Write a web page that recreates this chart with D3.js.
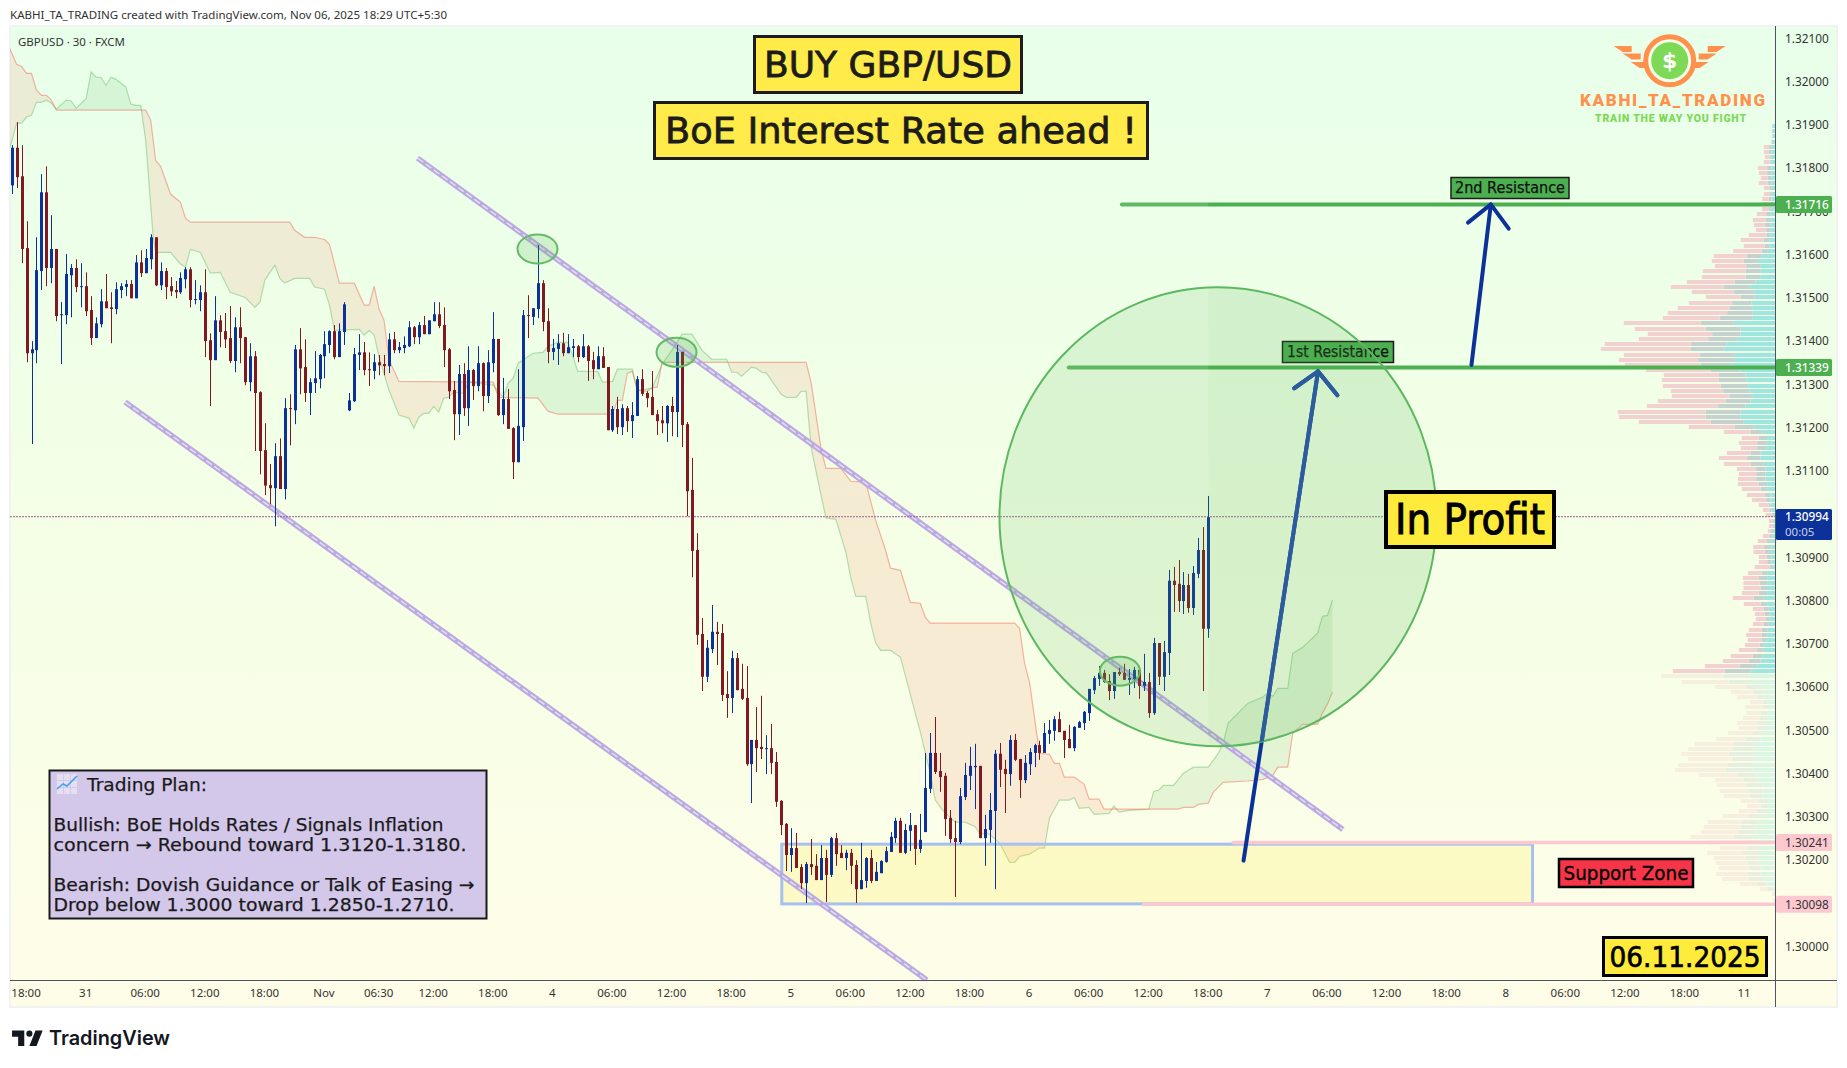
<!DOCTYPE html>
<html><head><meta charset="utf-8">
<style>html,body{margin:0;padding:0;background:#fff}svg{display:block}</style>
<script src="https://cdn.jsdelivr.net/npm/d3@7/dist/d3.min.js"></script>
</head><body><div id="chart"></div>
<script>
// Prices are in units of 0.00001
const opens=[131760,131847,131781,131615,131372,131379,131562,131744,131569,131613,
131460,131460,131552,131569,131525,131527,131472,131407,131439,131492,
131478,131474,131518,131525,131532,131499,131582,131557,131589,131640,
131529,131562,131527,131518,131513,131543,131566,131495,131495,131513,
131402,131356,131448,131423,131407,131354,131432,131409,131305,131365,
131282,131148,131067,131060,131134,131058,131245,131240,131381,131340,
131280,131303,131312,131365,131391,131423,131363,131421,131240,131261,
131368,131374,131335,131331,131351,131347,131342,131404,131379,131384,
131388,131432,131409,131437,131416,131446,131462,131437,131381,131287,
131231,131324,131245,131333,131296,131349,131273,131349,131405,131229,
131266,131199,131120,131201,131460,131456,131474,131534,131446,131375,
131382,131395,131372,131384,131388,131363,131388,131356,131335,131365,
131340,131194,131243,131201,131245,131215,131227,131312,131280,131271,
131231,131217,131210,131250,131236,131375,131208,131056,130917,130723,
130624,130688,130728,130725,130584,130575,130667,130596,130575,130422,
130478,130462,130457,130459,130427,130337,130284,130212,130228,130184,
130147,130191,130187,130154,130205,130166,130251,130217,130205,130217,
130189,130133,130152,130205,130152,130170,130196,130219,130251,130291,
130217,130268,130281,130226,130265,130365,130448,130406,130395,130298,
130251,130242,130346,130395,130415,130418,130251,130270,130314,130446,
130411,130399,130478,130434,130385,130422,130448,130466,130448,130492,
130499,130526,130499,130480,130459,130506,130517,130540,130593,130619,
130633,130614,130591,130635,130633,130617,130619,130640,130603,130612,
130540,130702,130624,130679,130846,130839,130799,130836,130783,130862,130917,130735];
const highs=[131853,131906,131853,131677,131400,131640,131786,131804,131691,131613,
131490,131601,131578,131589,131580,131559,131504,131455,131520,131555,
131513,131536,131534,131541,131541,131599,131610,131613,131647,131640,
131582,131569,131548,131539,131559,131571,131571,131541,131529,131566,
131418,131504,131460,131465,131481,131455,131478,131409,131395,131377,
131284,131210,131116,131164,131175,131268,131277,131391,131430,131404,
131314,131377,131370,131423,131425,131437,131441,131490,131280,131384,
131416,131398,131374,131370,131368,131368,131418,131421,131398,131411,
131446,131435,131444,131458,131448,131490,131490,131478,131384,131308,
131345,131349,131388,131335,131388,131351,131379,131467,131405,131315,
131289,131201,131335,131472,131506,131476,131622,131541,131476,131405,
131416,131419,131416,131405,131391,131416,131391,131375,131388,131386,
131340,131250,131271,131254,131250,131259,131319,131335,131284,131331,
131241,131250,131252,131271,131391,131375,131213,131130,130956,130760,
130709,130790,130751,130746,130637,130684,130679,130654,130649,130478,
130554,130580,130489,130515,130450,130339,130286,130274,130263,130191,
130196,130249,130214,130235,130224,130254,130263,130235,130224,130226,
130200,130240,130207,130224,130196,130200,130231,130265,130298,130298,
130284,130309,130281,130307,130448,130494,130531,130448,130402,130316,
130291,130367,130425,130462,130469,130418,130305,130355,130455,130471,
130432,130489,130492,130434,130443,130459,130469,130476,130517,130524,
130533,130543,130499,130513,130510,130522,130545,130596,130626,130649,
130640,130630,130635,130644,130654,130642,130647,130640,130677,130633,
130714,130702,130707,130871,130878,130894,130866,130862,130880,130945,130970,131042];
const lows=[131740,131754,131580,131351,131162,131349,131518,131527,131534,131446,
131347,131439,131455,131513,131478,131458,131391,131407,131432,131476,
131395,131462,131499,131504,131499,131499,131548,131557,131566,131527,
131518,131497,131504,131499,131509,131522,131478,131485,131469,131363,
131250,131356,131386,131384,131349,131328,131349,131298,131284,131146,
131092,131044,131023,130972,131058,131034,131159,131208,131277,131259,
131229,131280,131291,131314,131372,131358,131363,131391,131238,131259,
131333,131321,131296,131312,131321,131321,131326,131372,131372,131372,
131386,131393,131393,131416,131416,131446,131430,131340,131266,131171,
131183,131227,131204,131264,131284,131238,131257,131328,131227,131208,
131197,131081,131120,131169,131407,131437,131453,131423,131349,131356,
131345,131365,131372,131363,131351,131361,131308,131312,131335,131338,
131194,131190,131185,131183,131190,131176,131227,131273,131247,131229,
131183,131187,131167,131180,131178,131155,130995,130854,130698,130591,
130612,130679,130651,130568,130529,130540,130593,130570,130418,130332,
130404,130434,130399,130399,130323,130258,130175,130173,130182,130133,
130101,130166,130154,130154,130103,130161,130187,130205,130177,130145,
130101,130133,130136,130147,130152,130170,130194,130219,130240,130217,
130214,130221,130189,130217,130265,130355,130399,130358,130256,130240,
130115,130237,130339,130362,130318,130251,130187,130240,130133,130369,
130309,130372,130429,130344,130378,130397,130415,130432,130448,130469,
130476,130496,130436,130459,130452,130506,130501,130522,130584,130603,
130610,130570,130573,130626,130617,130582,130598,130573,130591,130529,
130536,130605,130591,130628,130774,130774,130769,130772,130767,130852,130591,130714];
const closes=[131847,131779,131613,131372,131381,131564,131744,131569,131613,131458,
131462,131555,131569,131525,131527,131469,131407,131441,131492,131476,
131474,131520,131527,131532,131499,131582,131557,131592,131640,131529,
131562,131525,131515,131513,131546,131566,131495,131497,131513,131400,
131356,131448,131421,131404,131354,131432,131407,131305,131365,131280,
131146,131066,131060,131134,131058,131245,131243,131381,131337,131280,
131305,131314,131368,131393,131423,131363,131423,131485,131263,131370,
131374,131333,131333,131351,131344,131342,131404,131379,131386,131391,
131432,131409,131437,131416,131448,131462,131435,131379,131284,131231,
131324,131245,131333,131296,131349,131273,131351,131405,131229,131266,
131197,131120,131204,131460,131458,131476,131534,131444,131375,131384,
131395,131372,131386,131388,131363,131388,131354,131335,131365,131338,
131194,131243,131201,131245,131215,131229,131312,131278,131268,131229,
131215,131210,131250,131236,131375,131206,131053,130915,130721,130624,
130691,130728,130723,130582,130575,130667,130593,130573,130422,130478,
130459,130457,130459,130425,130335,130281,130212,130228,130182,130147,
130191,130184,130154,130205,130166,130251,130214,130205,130217,130187,
130133,130154,130205,130152,130173,130198,130221,130254,130291,130217,
130270,130281,130226,130247,130367,130448,130404,130392,130295,130249,
130242,130348,130397,130418,130418,130251,130272,130316,130446,130409,
130399,130478,130432,130385,130425,130450,130466,130448,130494,130501,
130526,130496,130478,130459,130508,130519,130543,130596,130621,130633,
130612,130591,130635,130630,130617,130621,130640,130603,130612,130540,
130702,130624,130681,130846,130836,130799,130836,130783,130864,130917,130735,130993];

// Ichimoku leading spans as [bar index, price]
const spanB=[[-.4,132077],[1,132040],[2,132035],[3,132019],[4,132019],[5,131980],[6,131968],[7,131968],[8,131957],[9,131934],[27,131934],[28,131911],[29,131818],[30,131804],[32,131740],[34,131721],[35,131684],[36,131675],[56,131675],[57,131656],[59,131640],[61,131640],[63,131635],[64,131624],[66,131534],[69,131534],[71,131483],[72,131483],[73,131527],[74,131474],[75,131448],[76,131356],[78,131307],[97,131305],[98,131270],[106,131268],[108,131238],[110,131231],[121,131231],[122,131263],[123,131263],[124,131326],[125,131330],[126,131286],[128,131284],[129,131293],[130,131293],[131,131351],[160,131351],[161,131305],[163,131152],[164,131106],[167,131106],[169,131076],[172,131074],[174,130986],[176,130917],[177,130875],[179,130870],[181,130796],[183,130794],[184,130762],[185,130748],[202,130748],[203,130736],[204,130655],[205,130611],[207,130447],[209,130445],[210,130424],[211,130424],[212,130392],[214,130392],[216,130376],[217,130341],[219,130341],[220,130318],[235,130318],[236,130322],[238,130322],[239,130329],[241,130332],[242,130357],[244,130380],[249,130383],[252,130387],[254,130396],[255,130415],[257,130415],[258,130493],[260,130514],[263,130514],[264,130540],[265,130561],[266,130588]];
const spanA=[[-.3,131848],[1,131904],[2,131904],[3,131918],[4,131922],[5,131952],[6,131952],[7,131957],[8,131950],[9,131936],[11,131957],[12,131955],[13,131938],[15,131961],[16,132022],[17,132010],[18,132010],[19,131991],[20,132010],[21,132005],[23,131987],[24,131948],[25,131945],[26,131945],[27,131864],[28.5,131640],[29,131605],[32,131605],[34,131578],[35,131571],[36,131612],[38,131605],[40,131557],[42,131559],[44,131513],[47,131501],[49,131478],[50,131490],[51,131541],[53,131575],[54,131545],[55,131534],[57,131545],[60,131545],[61,131525],[63,131520],[64,131483],[65,131425],[70,131427],[71,131414],[72,131425],[73,131414],[74,131363],[76,131286],[78,131229],[80,131222],[81,131199],[82,131224],[83,131233],[84,131233],[85,131249],[86,131236],[87,131268],[88,131270],[89,131282],[91,131279],[92,131305],[97,131298],[99,131270],[100,131303],[101,131314],[102,131349],[105,131372],[107,131374],[108,131388],[110,131397],[112,131397],[113,131367],[114,131330],[118,131330],[119,131305],[121,131307],[122,131335],[125,131335],[126,131286],[129,131291],[131,131347],[133,131379],[135,131416],[137,131416],[139,131379],[141,131358],[144,131358],[145,131328],[146,131328],[147,131319],[149,131340],[150,131337],[151,131328],[152,131326],[155,131277],[156,131270],[158,131270],[159,131284],[160,131284],[161,131155],[163,131044],[164,130991],[166,130988],[168,130912],[169,130852],[170,130810],[172,130810],[173,130748],[174,130702],[175,130685],[177,130685],[179,130669],[183,130496],[185,130401],[186,130339],[187.5,130315],[190,130288],[192,130288],[194,130278],[195,130262],[197,130260],[199,130239],[201,130195],[202,130195],[203,130209],[205,130214],[207,130228],[208,130228],[209,130297],[211,130339],[213,130339],[214,130345],[215,130320],[217,130322],[218,130306],[221,130308],[222,130325],[223,130311],[225,130315],[229,130318],[230,130359],[231,130362],[232,130373],[234,130373],[236,130401],[238,130415],[241,130415],[243,130447],[244,130470],[245,130517],[247,130540],[249,130563],[252,130577],[253,130588],[254,130579],[255,130597],[257,130597],[258,130678],[260,130692],[263,130725],[264,130764],[265,130766],[266,130801]];

// Volume profile per price row (top row first)
const vpTop=131897, vpStep=12, vpPaleFrom=106;
const vpTeal=[8,8,8,8,13,13,15,15,13,13,13,13,13,12,12,10,15,14,14,14,14,15,18,18,23,40,52,44,44,44,60,77,62,62,72,68,70,70,125,105,105,115,147,155,122,122,130,108,90,88,82,78,68,75,90,105,105,95,62,38,25,28,28,45,45,35,30,30,30,25,25,15,15,15,12,8,
5,5,8,10,14,14,14,14,12,10,25,25,25,25,25,35,25,20,18,18,20,25,25,28,35,35,38,45,55,75,78,70,40,35,32,25,20,25,25,25,28,40,45,65,65,65,65,70,70,60,55,40,40,40,20,25,25,40,55,60,60,70,62,50,50,50,50,45,45,35,25,8,4,2];
const vpGrey=[2,2,2,4,7,7,2,2,12,12,11,11,5,5,8,5,5,14,16,18,14,12,18,14,19,45,43,44,46,46,62,78,63,43,58,70,75,98,100,105,85,87,106,100,106,110,95,87,80,82,83,79,70,75,82,105,105,100,60,37,25,27,27,30,40,40,28,28,28,25,20,17,13,5,6,4,
3,3,6,8,13,21,18,13,13,8,17,25,22,20,25,30,20,15,14,10,15,17,17,14,13,20,30,35,53,77,77,70,50,33,23,13,18,20,23,30,27,30,45,60,65,75,65,75,80,55,40,48,40,38,30,20,30,40,45,45,52,55,38,35,50,40,35,35,40,45,30,17,4,2];
const vpPink=[0,0,0,0,15,15,15,18,28,25,20,26,17,18,20,26,20,28,38,33,31,53,68,63,85,100,96,94,128,131,144,159,126,104,130,155,178,170,230,212,193,208,259,269,227,238,227,194,165,171,173,157,173,203,214,263,260,215,138,80,51,55,49,71,85,80,58,52,55,63,56,54,43,30,20,17,
12,12,9,20,26,32,34,23,25,44,41,48,49,51,51,63,50,33,30,31,33,38,46,41,44,55,66,78,104,156,188,141,92,66,61,39,53,42,49,61,55,73,88,117,132,144,133,148,152,115,85,88,87,77,54,40,55,78,103,110,112,130,100,82,105,95,93,90,93,80,52,22,2,3];

// Axis ticks
const priceTicks=[132100,132000,131900,131800,131700,131600,131500,131400,131300,131200,131100,131000,130900,130800,130700,130600,130500,130400,130300,130200,130100,130000];
const timeTickBars=[3,15,27,39,51,63,74,85,97,109,121,133,145,157,169,181,193,205,217,229,241,253,265,277,289,301,313,325,337,349];
const timeTickLabels=["18:00","31","06:00","12:00","18:00","Nov","06:30","12:00","18:00","4","06:00","12:00","18:00","5","06:00","12:00","18:00","6","06:00","12:00","18:00","7","06:00","12:00","18:00","8","06:00","12:00","18:00","11"];

// Drawing levels [start bar, price]
const resistance2=[[223.6,131716]], resistance1=[[212.9,131339]];
const zoneRect={x0:155.1,x1:306.3,top:130237,bot:130099};
const zoneTop=[[246,130241]], zoneBot=[[228,130098]];
const trendUpper=[[81.75,131823],[268.1,130271]];
const trendLower=[[22.84,131259],[184.3,129923]];
const arrow1=[[248.1,130199],[263.1,131330]], arrow1Head=[[258.3,131291],[263.1,131330],[267,131275]];
const arrow2=[[294,131345],[297.9,131716]], arrow2Head=[[293.3,131674],[297.9,131716],[301.5,131660]];
const touchEllipses=[[105.9,131613],[133.9,131374],[223.2,130637]];
const bigCircle=[242.95,130994];
const lastPrice=130994;

const W=1847,H=1068, L=10,R=1775.5,T=27,B=980,OUT=1837,BOT=1007;
const FT='"DejaVu Sans",sans-serif', FA='"Noto Sans",sans-serif';
const x=d3.scaleLinear().domain([0,241]).range([11.67,1208.3]);
const y=d3.scaleLinear().domain([132100,130000]).range([38.3,946.7]);
const xVol=d3.scaleLinear().domain([0,3]).range([0,1]);

const svg=d3.select('#chart').append('svg').attr('width',W).attr('height',H);
const defs=svg.append('defs');
const g=defs.append('linearGradient').attr('id','bg').attr('x1',0).attr('x2',0).attr('y1',0).attr('y2',1);
g.append('stop').attr('offset','0').attr('stop-color','#e8ffea');
g.append('stop').attr('offset','.5').attr('stop-color','#f4ffe6');
g.append('stop').attr('offset','1').attr('stop-color','#fffde8');
defs.append('clipPath').attr('id','pane').append('rect').attr('x',L).attr('y',T).attr('width',R-L).attr('height',B-T);
const lastX=x(241);
defs.append('clipPath').attr('id','leftOfLast').append('rect').attr('x',L).attr('y',T).attr('width',lastX-L).attr('height',B-T);
defs.append('clipPath').attr('id','rightOfLast').append('rect').attr('x',lastX).attr('y',T).attr('width',R-lastX).attr('height',B-T);
const RX=218.5,RY=229.5;
defs.append('clipPath').attr('id','circleClip').append('ellipse').attr('cx',x(bigCircle[0])).attr('cy',y(bigCircle[1])).attr('rx',RX).attr('ry',RY);

svg.append('text').attr('x',10).attr('y',18.5).attr('font-family',FA).attr('font-size',11.6).attr('fill','#333')
  .attr('textLength',437).attr('lengthAdjust','spacingAndGlyphs').text('KABHI_TA_TRADING created with TradingView.com, Nov 06, 2025 18:29 UTC+5:30');
svg.append('rect').attr('x',L).attr('y',T-1).attr('width',OUT-L).attr('height',BOT-T+1).attr('fill','url(#bg)').attr('stroke','#f0f3f2').attr('stroke-width',2);

const pane=svg.append('g').attr('clip-path','url(#pane)');

// Volume profile
const vp=pane.append('g');
const rowY=i=>y(vpTop-i*vpStep);
vpTeal.forEach((t,i)=>{
  const op=i>=vpPaleFrom?.33:1, yy=Math.round(rowY(i))-2;
  const a=xVol(t), b=xVol(vpGrey[i]), c=xVol(vpPink[i]);
  const row=vp.append('g').attr('opacity',op);
  row.append('rect').attr('x',R-a).attr('y',yy).attr('width',a).attr('height',4).attr('fill','#9fe6de');
  row.append('rect').attr('x',R-a-b).attr('y',yy).attr('width',b).attr('height',4).attr('fill','#c6d2d0');
  row.append('rect').attr('x',R-a-b-c).attr('y',yy).attr('width',c).attr('height',4).attr('fill','#f3d1d0');
});

// Ichimoku cloud
const grid=d3.range(-.4,266.01,.2);
const ia=d3.scaleLinear().domain(spanA.map(d=>d[0])).range(spanA.map(d=>d[1]));
const ib=d3.scaleLinear().domain(spanB.map(d=>d[0])).range(spanB.map(d=>d[1]));
const cloud=pane.append('g');
cloud.append('path').datum(grid).attr('fill','rgba(76,175,80,.12)')
  .attr('d',d3.area().x(d=>x(d)).y0(d=>y(Math.min(ia(d),ib(d)))).y1(d=>y(ia(d))));
cloud.append('path').datum(grid).attr('fill','rgba(244,80,54,.11)')
  .attr('d',d3.area().x(d=>x(d)).y0(d=>y(Math.min(ia(d),ib(d)))).y1(d=>y(ib(d))));
const ln=d3.line().x(d=>x(d[0])).y(d=>y(d[1]));
cloud.append('path').datum(spanA).attr('d',ln).attr('fill','none').attr('stroke','rgba(76,175,80,.38)').attr('stroke-width',1.2);
cloud.append('path').datum(spanB).attr('d',ln).attr('fill','none').attr('stroke','rgba(244,67,54,.38)').attr('stroke-width',1.2);

// Support zone
pane.append('rect').attr('x',x(zoneRect.x0)).attr('y',y(zoneRect.top)).attr('width',x(zoneRect.x1)-x(zoneRect.x0)).attr('height',y(zoneRect.bot)-y(zoneRect.top))
  .attr('fill','rgba(255,235,59,.2)').attr('stroke','#a8c0f0').attr('stroke-width',3);
function hLevel(pt,col,w){const p=pt[0];pane.append('line').attr('x1',x(p[0])).attr('x2',R).attr('y1',y(p[1])).attr('y2',y(p[1])).attr('stroke',col).attr('stroke-width',w).attr('stroke-linecap','round');}
hLevel(zoneTop,'#fcc9d1',3.5);
hLevel(zoneBot,'#fcc9d1',3.5);

// Resistance levels, paler left of the last bar
hLevel(resistance2,'#4caf50',4);
hLevel(resistance1,'#4caf50',4);
[[resistance2],[resistance1]].forEach(([r])=>{
  pane.append('line').attr('x1',x(r[0][0])-2).attr('x2',lastX).attr('y1',y(r[0][1])).attr('y2',y(r[0][1])).attr('stroke','#fff').attr('stroke-opacity',.12).attr('stroke-width',5);
});

// Trend channel
[trendUpper,trendLower].forEach(t=>{
  pane.append('path').datum(t).attr('d',ln).attr('fill','none').attr('stroke','#b7a5df').attr('stroke-width',5.5).attr('opacity',.95);
  pane.append('path').datum(t).attr('d',ln).attr('fill','none').attr('stroke','#e6dff5').attr('stroke-width',1.4).attr('stroke-dasharray','7 3');
});

// Arrows
[[arrow1,arrow1Head],[arrow2,arrow2Head]].forEach(([a,h])=>{
  [a,h].forEach(p=>pane.append('path').datum(p).attr('d',ln).attr('fill','none').attr('stroke','#0c3299').attr('stroke-width',4).attr('stroke-linecap','round').attr('stroke-linejoin','round'));
});

function box(parent,bx,by,bw,bh,fill,stroke,sw,text,size,col,tw,heavy){
  const gg=parent.append('g');
  gg.append('rect').attr('x',bx).attr('y',by).attr('width',bw).attr('height',bh).attr('fill',fill).attr('stroke',stroke).attr('stroke-width',sw);
  const t=gg.append('text').attr('x',bx+bw/2).attr('y',by+bh/2).attr('text-anchor','middle').attr('dominant-baseline','central')
    .attr('font-family',FT).attr('font-size',size).attr('fill',col).text(text);
  if(heavy)t.attr('stroke',col).attr('stroke-width',heavy);
  if(tw)t.attr('textLength',tw).attr('lengthAdjust','spacingAndGlyphs');
  return gg;
}
box(svg,1282.5,341.5,111,21,'#4caf50','#1c1c1c',1.5,'1st Resistance',15,'#111',102,.25);
box(svg,1451,177.5,118,21,'#4caf50','#1c1c1c',1.5,'2nd Resistance',15,'#111',110,.25);

// Big circle and touch ellipses (over labels, under candles)
const over=svg.append('g').attr('clip-path','url(#pane)');
const cx0=x(bigCircle[0]),cy0=y(bigCircle[1]);
over.append('ellipse').attr('cx',cx0).attr('cy',cy0).attr('rx',RX).attr('ry',RY).attr('clip-path','url(#leftOfLast)').attr('fill','rgba(76,175,80,.14)');
over.append('ellipse').attr('cx',cx0).attr('cy',cy0).attr('rx',RX).attr('ry',RY).attr('clip-path','url(#rightOfLast)').attr('fill','rgba(76,175,80,.18)');
over.append('ellipse').attr('cx',cx0).attr('cy',cy0).attr('rx',RX).attr('ry',RY).attr('fill','none').attr('stroke','#5cb860').attr('stroke-width',2);
const inC=over.append('g').attr('clip-path','url(#circleClip)');
[arrow1,arrow1Head].forEach(p=>inC.append('path').datum(p).attr('d',ln).attr('fill','none').attr('stroke','#2c5c9e').attr('stroke-width',4).attr('stroke-linecap','round').attr('stroke-linejoin','round'));
over.selectAll('.touch').data(touchEllipses).join('ellipse').attr('cx',d=>x(d[0])).attr('cy',d=>y(d[1])).attr('rx',20).attr('ry',14.5)
  .attr('fill','rgba(76,175,80,.18)').attr('stroke','#63bb67').attr('stroke-width',2);

// Price line
pane.append('line').attr('x1',L+1).attr('x2',R).attr('y1',y(lastPrice)).attr('y2',y(lastPrice)).attr('stroke','#3f7fe8').attr('stroke-width',1).attr('stroke-dasharray','1 2');
pane.append('line').attr('x1',L).attr('x2',R).attr('y1',y(lastPrice)).attr('y2',y(lastPrice)).attr('stroke','#f2433f').attr('stroke-width',1).attr('stroke-dasharray','1 2');

// Candles
const candles=pane.append('g');
const idx=d3.range(opens.length);
const col=i=>closes[i]>=opens[i]?'#0c3299':'#801922';
candles.selectAll('.wick').data(idx).join('line').attr('class','wick')
  .attr('x1',i=>Math.round(x(i))+.5).attr('x2',i=>Math.round(x(i))+.5)
  .attr('y1',i=>y(highs[i])).attr('y2',i=>y(lows[i])).attr('stroke',col).attr('stroke-width',1);
candles.selectAll('.body').data(idx).join('rect').attr('class','body')
  .attr('x',i=>Math.round(x(i))-1).attr('width',3)
  .attr('y',i=>y(Math.max(opens[i],closes[i])))
  .attr('height',i=>Math.max(1,Math.abs(y(opens[i])-y(closes[i])))).attr('fill',col);

// Axes
svg.append('line').attr('x1',R).attr('x2',R).attr('y1',T-1).attr('y2',BOT).attr('stroke','#50535e').attr('stroke-width',1);
svg.append('line').attr('x1',L).attr('x2',OUT).attr('y1',B+.5).attr('y2',B+.5).attr('stroke','#50535e').attr('stroke-width',1);
const axR=svg.append('g').attr('transform',`translate(${R},0)`)
  .call(d3.axisRight(y).tickValues(priceTicks).tickSize(0).tickPadding(9.5).tickFormat(d=>(d/1e5).toFixed(5)));
axR.select('.domain').remove();
axR.selectAll('text').attr('font-family',FA).attr('font-size',11.8).attr('fill','#333');
const axB=svg.append('g').attr('transform',`translate(-1,${B})`)
  .call(d3.axisBottom(x).tickValues(timeTickBars).tickSize(0).tickPadding(9).tickFormat((d,i)=>timeTickLabels[i]));
axB.select('.domain').remove();
axB.selectAll('text').attr('font-family',FA).attr('font-size',11.5).attr('fill','#333');

// Axis labels
function axisLabel(p,fill,col,txt,strong){
  const yy=y(p);
  svg.append('rect').attr('x',R+.5).attr('y',yy-8.5).attr('width',56).attr('height',17).attr('rx',1.5).attr('fill',fill);
  svg.append('text').attr('x',R+9.5).attr('y',yy+4.2).attr('font-family',FA).attr('font-size',11.8).attr('font-weight',strong?500:400).attr('fill',col).text(txt);
}
axisLabel(131716,'#4caf50','#fff','1.31716',1);
axisLabel(131339,'#4caf50','#fff','1.31339',1);
axisLabel(130241,'#fcc9d1','#333','1.30241');
axisLabel(130098,'#fcc9d1','#333','1.30098');
svg.append('rect').attr('x',R+.5).attr('y',509).attr('width',56).attr('height',31).attr('rx',1.5).attr('fill','#0c3299');
svg.append('text').attr('x',R+9.5).attr('y',521).attr('font-family',FA).attr('font-size',11.8).attr('font-weight',500).attr('fill','#fff').text('1.30994');
svg.append('text').attr('x',R+9.5).attr('y',536).attr('font-family',FA).attr('font-size',11.5).attr('fill','#c4cfee').text('00:05');

// Text boxes
svg.append('text').attr('x',18).attr('y',46).attr('font-family',FA).attr('font-size',11).attr('fill','#333').attr('textLength',107).attr('lengthAdjust','spacingAndGlyphs').text('GBPUSD · 30 · FXCM');
box(svg,754.5,36.5,267,56,'#ffeb4a','#1c1c1c',3,'BUY GBP/USD',36,'#1c1c1c',248,.8);
box(svg,654.5,102.5,493,56,'#ffeb4a','#1c1c1c',3,'BoE Interest Rate ahead !',36,'#1c1c1c',472,.8);
box(svg,1386,492,168,55,'#ffeb3b','#000',4,'In Profit',42,'#000',150,1);
box(svg,1559,859,134,28,'#f63548','#000',2.5,'Support Zone',20,'#000',125,.3);
box(svg,1603.5,937.5,163,38,'#ffeb3b','#000',3,'06.11.2025',29,'#000',151,.7);

// Trading plan
const planX=49.5,planY=770.5;
svg.append('rect').attr('x',planX).attr('y',planY).attr('width',437).attr('height',148).attr('fill','#d3c7ea').attr('stroke','#1a1a1a').attr('stroke-width',2);
const ic=svg.append('g').attr('transform','translate(57,774)');
ic.append('rect').attr('width',20).attr('height',20).attr('fill','#e6dff2');
[6.5,13.5].forEach(v=>{ic.append('line').attr('x1',v).attr('x2',v).attr('y2',20).attr('stroke','#d3c7ea');ic.append('line').attr('y1',v).attr('y2',v).attr('x2',20).attr('stroke','#d3c7ea');});
ic.append('polyline').attr('points','0,15 6,10 10,12 20,2').attr('fill','none').attr('stroke','#3fa3ee').attr('stroke-width',1.6);
const planLines=[["Trading Plan:",87,790.5,120],["Bullish: BoE Holds Rates / Signals Inflation",53.5,830.5,390],["concern → Rebound toward 1.3120-1.3180.",53.5,850.5,413],["Bearish: Dovish Guidance or Talk of Easing →",53.5,890.5,421],["Drop below 1.3000 toward 1.2850-1.2710.",53.5,910.5,401]];
planLines.forEach(l=>svg.append('text').attr('x',l[1]).attr('y',l[2]).attr('font-family',FT).attr('font-size',18).attr('fill','#1a1a1a').attr('stroke','#1a1a1a').attr('stroke-width',.25)
  .attr('textLength',l[3]).attr('lengthAdjust','spacingAndGlyphs').text(l[0]));

// Logo
const lg=svg.append('g');
const ORG='#ff914d',GRN='#7ed957';
const CX=1669.7;
[[49,56,42],[56.5,47,33],[65,39,26]].forEach(([yy,out,inn])=>{
  lg.append('path').attr('d',`M${CX-out} ${yy-3}L${CX-inn+4} ${yy-3}L${CX-inn+4} ${yy+3}L${CX-out+9} ${yy+3}Z`).attr('fill',ORG);
  lg.append('path').attr('d',`M${CX+out} ${yy-3}L${CX+inn-4} ${yy-3}L${CX+inn-4} ${yy+3}L${CX+out-9} ${yy+3}Z`).attr('fill',ORG);
});
lg.append('circle').attr('cx',CX).attr('cy',60.7).attr('r',24).attr('fill','#f3ffe9').attr('stroke',ORG).attr('stroke-width',5);
lg.append('circle').attr('cx',CX).attr('cy',60.7).attr('r',18.5).attr('fill',GRN);
lg.append('text').attr('x',CX).attr('y',68).attr('text-anchor','middle').attr('font-family',FT).attr('font-size',22).attr('font-weight','bold').attr('fill','#fff').text('$');
lg.append('text').attr('x',1580).attr('y',105.5).attr('font-family','"Roboto",sans-serif').attr('font-size',17).attr('font-weight',900).attr('fill',ORG).attr('textLength',185).text('KABHI_TA_TRADING');
lg.append('text').attr('x',1595).attr('y',122).attr('font-family','"Roboto",sans-serif').attr('font-size',10.5).attr('font-weight',900).attr('fill',GRN).attr('textLength',151).text('TRAIN THE WAY YOU FIGHT');

// TradingView brand
svg.append('path').attr('transform','translate(10,1024.5) scale(1.02)').attr('fill','#131722')
  .attr('d','M14 6H2v6h6v9h6V6Zm12 15h-7l6-15h7l-6 15Zm-7-9a3 3 0 1 0 0-6 3 3 0 0 0 0 6Z');
svg.append('text').attr('x',49).attr('y',1045).attr('font-family','"Inter",sans-serif').attr('font-size',20).attr('font-weight',600).attr('fill','#131722').attr('textLength',121).attr('lengthAdjust','spacingAndGlyphs').text('TradingView');
</script></body></html>
